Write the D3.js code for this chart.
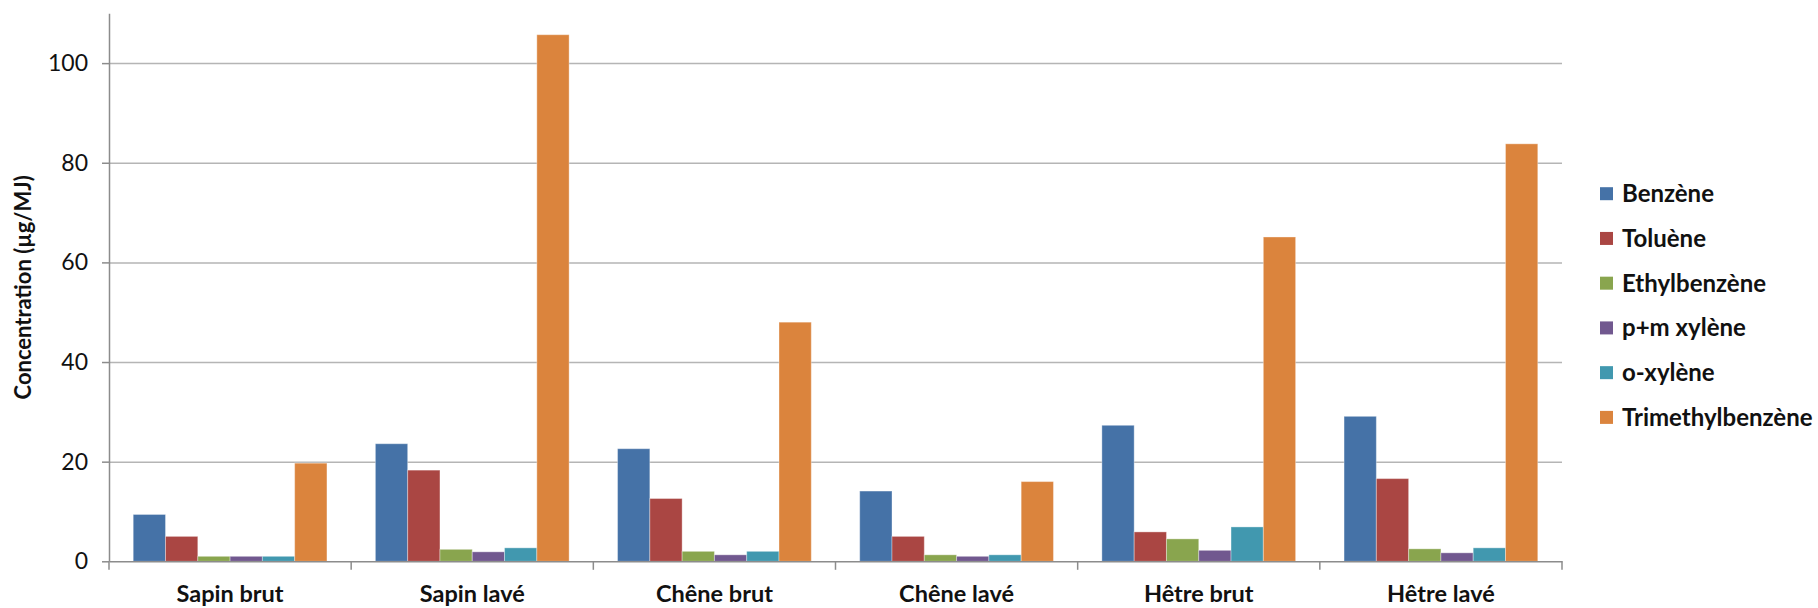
<!DOCTYPE html>
<html>
<head>
<meta charset="utf-8">
<script src="https://cdn.jsdelivr.net/npm/d3@7"></script>
<style>
  html, body { margin: 0; padding: 0; background: #fff; }
  svg { display: block; font-family: Lato, "Open Sans", sans-serif; }
</style>
</head>
<body>
<svg id="chart" width="1818" height="608"></svg>
<script>
const categories = ["Sapin brut", "Sapin lavé", "Chêne brut", "Chêne lavé", "Hêtre brut", "Hêtre lavé"];
const seriesNames = ["Benzène", "Toluène", "Ethylbenzène", "p+m xylène", "o-xylène", "Trimethylbenzène"];
const seriesColors = ["#4572A7", "#AA4643", "#89A54E", "#71588F", "#4198AF", "#DB843D"];
const benzene = [9.4, 23.6, 22.6, 14.1, 27.3, 29.1];
const toluene = [5.0, 18.3, 12.6, 5.0, 5.9, 16.6];
const ethylbenzene = [1.0, 2.4, 2.0, 1.3, 4.5, 2.5];
const pmXylene = [1.0, 1.9, 1.3, 1.0, 2.2, 1.7];
const oXylene = [1.0, 2.7, 2.0, 1.3, 6.9, 2.7];
const trimethylbenzene = [19.7, 105.7, 48.0, 16.0, 65.1, 83.8];
const yTicks = [0, 20, 40, 60, 80, 100];
const yMax = 110;
const yTitle = "Concentration (µg/MJ)";

const seriesValues = [benzene, toluene, ethylbenzene, pmXylene, oXylene, trimethylbenzene];

(function () {
const svg = d3.select("#chart");
const plotLeft = 109, plotRight = 1562, plotTop = 13.3, plotBottom = 561.3;

const y = d3.scaleLinear().domain([0, yMax]).range([plotBottom, plotTop]);
const x0 = d3.scaleBand().domain(categories).range([plotLeft, plotRight]).padding(0);
const x1 = d3.scaleBand().domain(seriesNames).range([0, x0.bandwidth()])
  .paddingInner(0).paddingOuter(0.75);
const color = d3.scaleOrdinal().domain(seriesNames).range(seriesColors);

// gridlines
const grid = svg.append("g").attr("transform", `translate(${plotLeft},0)`)
  .call(d3.axisLeft(y).tickValues(yTicks.filter(d => d > 0)).tickSize(-(plotRight - plotLeft)).tickFormat(""));
grid.select(".domain").remove();
grid.selectAll("line").attr("stroke", "#b5b5b5").attr("stroke-width", 1.5);

// bars
const groups = svg.append("g").selectAll("g")
  .data(categories)
  .join("g")
  .attr("transform", d => `translate(${x0(d)},0)`);

groups.selectAll("rect")
  .data((c, ci) => seriesNames.map((s, si) => ({ s, v: seriesValues[si][ci] })))
  .join("rect")
  .attr("x", d => x1(d.s))
  .attr("width", x1.bandwidth())
  .attr("y", d => y(d.v))
  .attr("height", d => y(0) - y(d.v))
  .attr("fill", d => color(d.s))
  .attr("stroke", "rgba(255,255,255,0.35)")
  .attr("stroke-width", 1);

// y axis
const yAxis = svg.append("g").attr("transform", `translate(${plotLeft},0)`)
  .call(d3.axisLeft(y).tickValues(yTicks).tickSize(7).tickPadding(14).tickSizeOuter(0));
yAxis.select(".domain").attr("stroke", "#8c8c8c").attr("stroke-width", 1.5);
yAxis.selectAll(".tick line").attr("stroke", "#8c8c8c").attr("stroke-width", 1.5);
yAxis.selectAll(".tick text").attr("font-size", 23).attr("font-family", "Lato, sans-serif").attr("fill", "#111");

// x axis
const xAxis = svg.append("g").attr("transform", `translate(0,${plotBottom})`)
  .call(d3.axisBottom(x0).tickSize(0).tickPadding(24).tickSizeOuter(0));
xAxis.select(".domain").attr("stroke", "#8c8c8c").attr("stroke-width", 1.5);
xAxis.selectAll(".tick text").attr("font-size", 23.5).attr("font-weight", "bold")
  .attr("font-family", "Lato, sans-serif").attr("fill", "#111");

// category boundary ticks
const bounds = categories.map(c => x0(c)).concat([x0(categories[categories.length - 1]) + x0.bandwidth()]);
svg.append("g").selectAll("line").data(bounds).join("line")
  .attr("x1", d => d).attr("x2", d => d)
  .attr("y1", plotBottom).attr("y2", plotBottom + 8.5)
  .attr("stroke", "#8c8c8c").attr("stroke-width", 1.5);

// y title
svg.append("text")
  .attr("transform", `translate(31,${(plotTop + plotBottom) / 2}) rotate(-90)`)
  .attr("text-anchor", "middle")
  .attr("font-size", 22).attr("font-weight", "bold").attr("fill", "#111")
  .text(yTitle);

// legend
const legendY = d3.scalePoint().domain(seriesNames).range([193.7, 417.4]);
const legend = svg.append("g").selectAll("g").data(seriesNames).join("g")
  .attr("transform", d => `translate(1600,${legendY(d)})`);
legend.append("rect").attr("x", 0).attr("y", -6.5).attr("width", 13).attr("height", 13)
  .attr("fill", d => color(d));
legend.append("text").attr("x", 22).attr("dy", "0.35em")
  .attr("font-size", 24).attr("font-weight", "bold").attr("fill", "#111")
  .text(d => d);
})();
</script>
</body>
</html>
